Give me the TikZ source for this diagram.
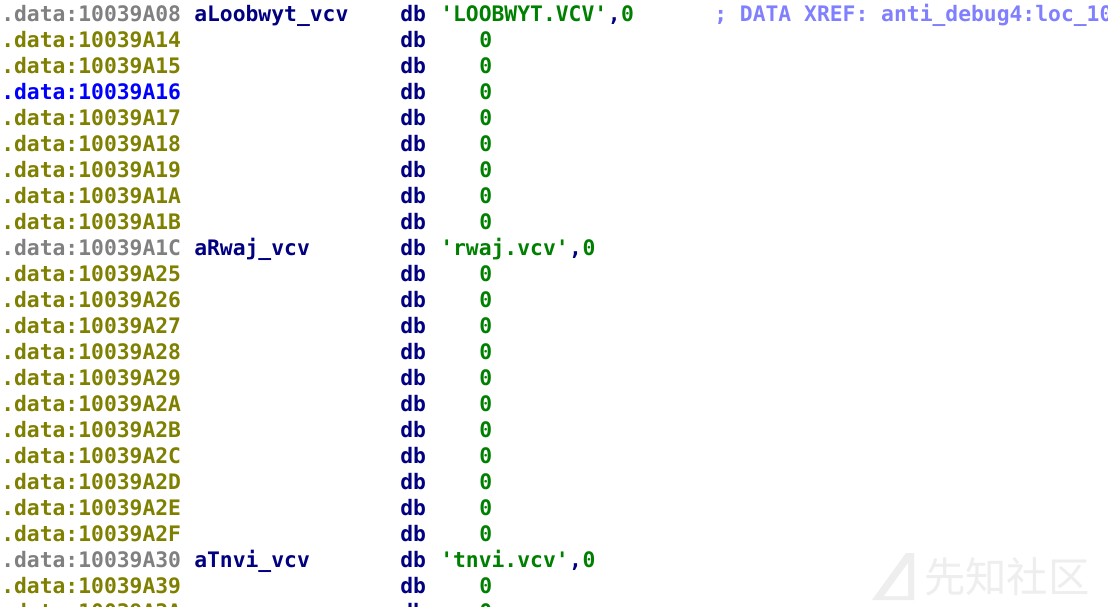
\documentclass[tikz,border=0pt]{standalone}
\usepackage{fontspec}
\setmonofont{DejaVu Sans Mono}
\newfontfamily\cjk{Noto Sans CJK SC}
\definecolor{addrgray}{HTML}{808080}
\definecolor{addrolive}{HTML}{808000}
\definecolor{addrblue}{HTML}{0000FF}
\definecolor{navy}{HTML}{000080}
\definecolor{strgreen}{HTML}{008000}
\definecolor{cmt}{HTML}{8080FF}
\definecolor{wm}{HTML}{EEEEEE}
\tikzset{
  code/.style={inner sep=0pt, anchor=base west, font=\ttfamily\bfseries\fontsize{16}{16}\selectfont},
  addr/.style={code},
  lbl/.style={code, text=navy},
  kw/.style={code, text=navy},
  strv/.style={code, text=strgreen},
  cmnt/.style={code, text=cmt},
}
\begin{document}
\begin{tikzpicture}[x=0.75pt,y=-0.75pt]
\useasboundingbox (0,0) rectangle (1108,607);
\clip (0,0) rectangle (1108,607);
\fill[white] (0,0) rectangle (1108,607);
% watermark
\fill[wm] (872,600) -- (906,553) -- (914,553) -- (914,600) -- cycle;
\fill[white] (884,596) -- (908,563) -- (908,596) -- cycle;
\node[inner sep=0pt, anchor=west, text=wm, font=\cjk\fontsize{31}{31}\selectfont] (wmtext) at (924,577) {先知社区};
% addresses
\foreach \i/\a/\c in {0/08/addrgray,1/14/addrolive,2/15/addrolive,3/16/addrblue,
  4/17/addrolive,5/18/addrolive,6/19/addrolive,7/1A/addrolive,8/1B/addrolive,
  9/1C/addrgray,10/25/addrolive,11/26/addrolive,12/27/addrolive,13/28/addrolive,
  14/29/addrolive,15/2A/addrolive,16/2B/addrolive,17/2C/addrolive,18/2D/addrolive,
  19/2E/addrolive,20/2F/addrolive,21/30/addrgray,22/39/addrolive,23/3A/addrolive}
{
  \node[addr, text=\c] (a\i) at (1,{21+26*\i}) {.data:10039A\a};
  \node[kw] (d\i) at (400,{21+26*\i}) {db};
}
% zero values
\foreach \i in {1,...,8,10,11,...,20,22,23}
  \node[strv] (v\i) at (479,{21+26*\i}) {0};
% labels
\node[lbl] (l0) at (194,21) {aLoobwyt\_vcv};
\node[lbl] (l9) at (194,{21+26*9}) {aRwaj\_vcv};
\node[lbl] (l21) at (194,{21+26*21}) {aTnvi\_vcv};
% strings
\node[strv] (s0) at (440,21) {'LOOBWYT.VCV'};
\node[kw] (c0) at (s0.base east) {,};
\node[strv] (z0) at (c0.base east) {0};
\node[strv] (s9) at (440,{21+26*9}) {'rwaj.vcv'};
\node[kw] (c9) at (s9.base east) {,};
\node[strv] (z9) at (c9.base east) {0};
\node[strv] (s21) at (440,{21+26*21}) {'tnvi.vcv'};
\node[kw] (c21) at (s21.base east) {,};
\node[strv] (z21) at (c21.base east) {0};
% comment
\node[cmnt] (x0) at (714,21) {; DATA XREF: anti\_debug4:loc\_10};
\end{tikzpicture}
\end{document}
